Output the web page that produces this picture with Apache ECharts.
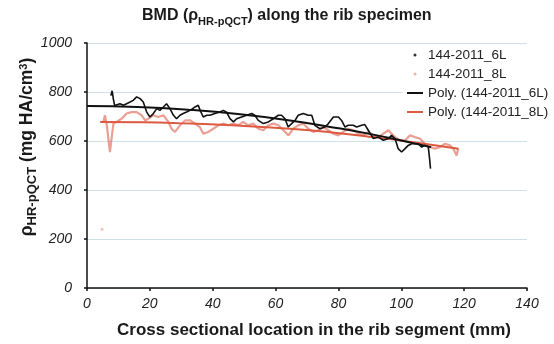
<!DOCTYPE html>
<html>
<head>
<meta charset="utf-8">
<script src="https://cdn.jsdelivr.net/npm/echarts@6/dist/echarts.min.js"></script>
<style>
html,body{margin:0;padding:0;background:#fff;}
#c{width:554px;height:344px;}
</style>
</head>
<body>
<div id="c"></div>
<script>
// Cross sectional location (mm), BMD (mg HA/cm3)
const bmd6L = [
  [7.6,785],[8.0,805],[8.4,770],[8.8,745],[9.4,739],[10.5,752],[11.6,746],[12.6,752],[13.7,759],
  [14.7,766],[15.8,780],[16.9,773],[17.9,759],[19.0,718],[20.0,698],[21.1,712],[22.2,732],
  [23.2,725],[24.3,739],[25.3,752],[26.4,732],[27.5,705],[28.5,691],[29.6,705],[30.6,712],
  [31.7,718],[32.8,725],[34.4,739],[35.4,746],[36.0,725],[37.0,698],[38.1,705],[39.1,705],
  [40.7,712],[42.3,718],[43.4,725],[44.4,718],[45.5,691],[46.6,678],[47.6,691],[49.2,698],
  [50.8,705],[52.4,712],[53.4,705],[54.5,684],[56.1,671],[57.7,678],[59.3,691],[60.9,705],
  [61.9,705],[63.0,691],[64.0,657],[65.1,671],[66.2,684],[67.2,705],[68.8,712],[70.4,705],
  [71.5,705],[72.5,664],[74.1,650],[75.7,657],[76.8,671],[78.4,698],[80.0,698],[81.0,684],
  [82.1,657],[83.1,664],[84.7,664],[85.8,657],[87.4,664],[88.4,667],[89.5,644],[91.1,610],
  [92.7,616],[94.3,603],[95.9,610],[96.9,623],[98.0,610],[99.0,569],[100.1,555],[101.2,569],
  [102.2,582],[103.3,589],[104.3,589],[105.4,589],[106.5,575],[107.5,582],[108.6,575],
  [109.0,528],[109.3,487]
];
const bmd8L = [
  [5.2,678],[5.7,705],[6.3,664],[6.8,610],[7.3,555],[7.8,610],[8.4,671],[9.4,678],[11.0,691],
  [12.6,712],[14.2,718],[15.8,718],[17.4,705],[18.5,684],[19.5,691],[21.1,705],[22.7,698],
  [24.3,705],[25.9,678],[26.9,650],[28.0,637],[29.6,664],[31.2,684],[32.8,684],[34.4,671],
  [35.9,657],[37.0,630],[38.6,637],[40.2,650],[41.8,664],[43.4,671],[45.0,664],[46.6,671],
  [48.1,664],[49.7,678],[51.3,664],[52.9,671],[54.5,650],[56.1,644],[57.7,664],[59.3,671],
  [60.9,664],[62.5,644],[64.1,623],[65.6,650],[67.2,664],[68.8,671],[70.4,650],[72.0,637],
  [73.6,644],[75.2,657],[76.8,644],[78.4,630],[79.9,623],[81.5,637],[83.1,650],[84.7,644],
  [86.3,630],[87.9,623],[89.5,637],[91.1,623],[92.7,616],[94.3,630],[95.9,644],[96.9,630],
  [98.0,616],[99.6,603],[101.2,603],[102.8,623],[104.3,616],[105.9,610],[107.5,589],
  [109.1,575],[110.7,569],[112.3,575],[113.9,589],[115.5,582],[116.5,569],[117.6,541],[118.1,569]
];
const bmd8LOutlier = [[4.8,240]];
const poly6L = [[0,743],[16,739],[32.8,727],[48,710],[64.6,684],[80,652],[91.1,626],[100,602],[109.5,575]];
const poly8L = [[4.2,678],[18,677],[32.8,671],[48,663],[64.6,650],[78,635],[91.1,616],[105,593],[118.2,568]];
const seriesNames = ['144-2011_6L','144-2011_8L','Poly. (144-2011_6L)','Poly. (144-2011_8L)'];

const FONT = 'Liberation Sans, Arial, sans-serif';
const LINE_ICON = 'path://M0,0L16,0L16,2L0,2Z';
const chart = echarts.init(document.getElementById('c'), null, {renderer:'canvas'});
chart.setOption({
  animation:false,
  backgroundColor:'#fff',
  title:{
    text:'{b|BMD (ρ}{s|HR-pQCT}{b|) along the rib specimen}',
    left:137, top:3,
    textStyle:{
      rich:{
        b:{fontFamily:FONT,fontWeight:'bold',fontSize:16,color:'#1a1a1a',verticalAlign:'bottom'},
        s:{fontFamily:FONT,fontWeight:'bold',fontSize:11,color:'#1a1a1a',verticalAlign:'bottom',padding:[0,0,-3,0]}
      }
    }
  },
  grid:{left:87,right:27,top:43,bottom:56,containLabel:false},
  legend:{
    orient:'vertical', left:403, top:45,
    backgroundColor:'#fff', padding:[3,4,3,4],
    itemWidth:16, itemHeight:3, itemGap:5,
    textStyle:{fontFamily:FONT,fontSize:13.5,color:'#222'},
    data:[
      {name:seriesNames[0], icon:'circle', itemStyle:{color:'#333'}},
      {name:seriesNames[1], icon:'circle', itemStyle:{color:'#f0b0a4'}},
      {name:seriesNames[2], icon:LINE_ICON, itemStyle:{color:'#111'}},
      {name:seriesNames[3], icon:LINE_ICON, itemStyle:{color:'#dc5a40'}}
    ]
  },
  xAxis:{
    type:'value', min:0, max:140, interval:20,
    name:'Cross sectional location in the rib segment (mm)',
    nameLocation:'middle', nameGap:34,
    nameTextStyle:{fontFamily:FONT,fontWeight:'bold',fontSize:17,color:'#1a1a1a',padding:[0,0,0,14]},
    axisLine:{lineStyle:{color:'#111',width:1.5}},
    axisTick:{show:true,length:3,lineStyle:{color:'#111',width:1.5}},
    axisLabel:{fontFamily:FONT,fontStyle:'italic',fontSize:14,color:'#222',margin:9},
    splitLine:{show:false}
  },
  yAxis:{
    type:'value', min:0, max:1000, interval:200,
    axisLine:{show:true,lineStyle:{color:'#111',width:1.5}},
    axisTick:{show:true,length:3,lineStyle:{color:'#111',width:1.5}},
    axisLabel:{fontFamily:FONT,fontStyle:'italic',fontSize:14,color:'#222',margin:15,formatter:function(v){return String(v);}},
    splitLine:{show:true,lineStyle:{color:'#cfe0ea',width:1}}
  },
  graphic:[{
    type:'text', x:27, y:147, rotation:Math.PI/2,
    style:{
      text:'{r|ρ}{s|HR-pQCT}{r| (mg HA/cm}{p|3}{r|)}',
      align:'center', verticalAlign:'middle',
      rich:{
        r:{fontFamily:FONT,fontWeight:'bold',fontSize:17.5,fill:'#1a1a1a',verticalAlign:'bottom'},
        s:{fontFamily:FONT,fontWeight:'bold',fontSize:13,fill:'#1a1a1a',verticalAlign:'bottom',padding:[0,0,-3,0]},
        p:{fontFamily:FONT,fontWeight:'bold',fontSize:11,fill:'#1a1a1a',verticalAlign:'top'}
      }
    }
  }],
  series:[
    {
      name:seriesNames[1], type:'line', data:bmd8L, showSymbol:false, symbol:'none',
      lineStyle:{color:'rgba(222,95,75,0.6)',width:2.2}, itemStyle:{color:'#f0b0a4'}, z:2
    },
    {
      name:seriesNames[1], type:'scatter', data:bmd8LOutlier, symbolSize:3,
      itemStyle:{color:'rgba(230,130,115,0.6)'}, z:2
    },
    {
      name:seriesNames[0], type:'line', data:bmd6L, showSymbol:false, symbol:'none',
      lineStyle:{color:'#111',width:1.6}, itemStyle:{color:'#111'}, z:4
    },
    {
      name:seriesNames[2], type:'line', data:poly6L, smooth:true, symbol:'none',
      lineStyle:{color:'#111',width:2}, itemStyle:{color:'#111'}, z:5
    },
    {
      name:seriesNames[3], type:'line', data:poly8L, smooth:true, symbol:'none',
      lineStyle:{color:'#dc5a40',width:2}, itemStyle:{color:'#dc5a40'}, z:3
    }
  ]
});
</script>
</body>
</html>
